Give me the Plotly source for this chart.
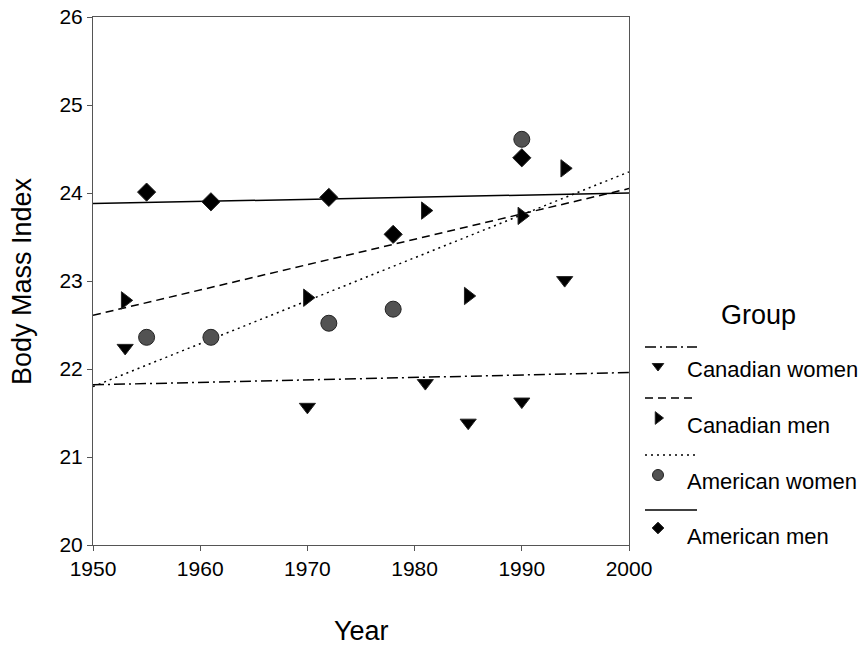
import plotly.graph_objects as go

# ---- data ----
groups = ["Canadian women", "Canadian men", "American women", "American men"]

cw_year = [1953, 1970, 1981, 1985, 1990, 1994]
cw_bmi = [22.24, 21.57, 21.84, 21.39, 21.63, 23.01]

cm_year = [1953, 1970, 1981, 1985, 1990, 1994]
cm_bmi = [22.78, 22.81, 23.80, 22.83, 23.74, 24.28]

aw_year = [1955, 1961, 1972, 1978, 1990]
aw_bmi = [22.36, 22.36, 22.52, 22.68, 24.61]

am_year = [1955, 1961, 1972, 1978, 1990]
am_bmi = [24.01, 23.90, 23.95, 23.53, 24.40]

# fitted trend lines (value at 1950 and at 2000)
fit_years = [1950, 2000]
cw_fit = [21.82, 21.96]
cm_fit = [22.61, 24.05]
aw_fit = [21.80, 24.24]
am_fit = [23.88, 24.00]

x_ticks = [1950, 1960, 1970, 1980, 1990, 2000]
y_ticks = [20, 21, 22, 23, 24, 25, 26]

# ---- styles ----
FONT = "Liberation Sans, Arial, sans-serif"
W, H = 868, 649
L, R, T, B = 93, 0, 17, 104
plot_right = 629
dom_end = (plot_right - L) / (W - L - R)

series = [
    dict(name=groups[0], x=cw_year, y=cw_bmi, fit=cw_fit, symbol="triangle-down",
         color="black", size=14, lsize=10, dash="11px,4px,2px,4px"),
    dict(name=groups[1], x=cm_year, y=cm_bmi, fit=cm_fit, symbol="triangle-right",
         color="black", size=15, lsize=11, dash="8px,5px"),
    dict(name=groups[2], x=aw_year, y=aw_bmi, fit=aw_fit, symbol="circle",
         color="#525252", size=16, lsize=11, dash="2px,4px"),
    dict(name=groups[3], x=am_year, y=am_bmi, fit=am_fit, symbol="diamond",
         color="black", size=14, lsize=9, dash="solid"),
]

fig = go.Figure()

for s in series:
    fig.add_trace(go.Scatter(
        x=fit_years, y=s["fit"], mode="lines",
        line=dict(color="black", width=1.5, dash=s["dash"]),
        showlegend=False, hoverinfo="skip"))

for s in series:
    fig.add_trace(go.Scatter(
        x=s["x"], y=s["y"], mode="markers", name=s["name"],
        marker=dict(symbol=s["symbol"], size=s["size"], color=s["color"],
                    line=dict(color="#222", width=1)),
        showlegend=False, cliponaxis=False))

# ---- custom legend on a hidden pixel-scaled axis pair ----
leg_line_y = [347, 398, 455, 510]
leg_mark_y = [366, 418, 475, 528]
leg_text_y = [369, 425, 481, 536]
for i, s in enumerate(series):
    fig.add_trace(go.Scatter(
        x=[645, 697], y=[leg_line_y[i]] * 2, mode="lines",
        line=dict(color="black", width=1.5, dash=s["dash"]),
        xaxis="x2", yaxis="y2", showlegend=False, hoverinfo="skip"))
    fig.add_trace(go.Scatter(
        x=[658], y=[leg_mark_y[i]], mode="markers",
        marker=dict(symbol=s["symbol"], size=s["lsize"], color=s["color"],
                    line=dict(color="#222", width=1)),
        xaxis="x2", yaxis="y2", showlegend=False, hoverinfo="skip"))
    fig.add_annotation(x=685, y=leg_text_y[i], xref="x2", yref="y2",
                       text=s["name"], showarrow=False, xanchor="left",
                       yanchor="middle", font=dict(family=FONT, size=22, color="black"))

fig.add_annotation(x=758, y=315, xref="x2", yref="y2", text="Group",
                   showarrow=False, xanchor="center", yanchor="middle",
                   font=dict(family=FONT, size=27, color="black"))

axis_common = dict(showgrid=False, zeroline=False, showline=True, mirror=True,
                   linecolor="#555", linewidth=1, ticks="outside", ticklen=5,
                   tickcolor="#555", automargin=False,
                   tickfont=dict(family=FONT, size=21, color="black"))

fig.update_layout(
    width=W, height=H,
    margin=dict(l=L, r=R, t=T, b=B, autoexpand=False),
    paper_bgcolor="white", plot_bgcolor="white",
    showlegend=False,
    xaxis=dict(range=[1950, 2000], tickvals=x_ticks, domain=[0, dom_end], **axis_common),
    yaxis=dict(range=[20, 26], tickvals=y_ticks, **axis_common),
    xaxis2=dict(range=[plot_right, W - R], domain=[dom_end, 1], anchor="y2",
                visible=False, fixedrange=True, automargin=False),
    yaxis2=dict(range=[H - B, T], domain=[0, 1], anchor="x2",
                visible=False, fixedrange=True, automargin=False),
)

fig.add_annotation(x=0.5 * dom_end, y=-(631 - (H - B)) / (H - T - B), xref="paper", yref="paper",
                   text="Year", showarrow=False, xanchor="center", yanchor="middle",
                   font=dict(family=FONT, size=27, color="black"))
fig.add_annotation(x=-(L - 22) / (W - L - R), y=0.5, xref="paper", yref="paper",
                   text="Body Mass Index", showarrow=False, textangle=-90,
                   xanchor="center", yanchor="middle",
                   font=dict(family=FONT, size=27, color="black"))

fig.write_html("out.html", config={"displayModeBar": False},
               post_script="document.body.style.margin='0';document.body.style.overflow='hidden';")
